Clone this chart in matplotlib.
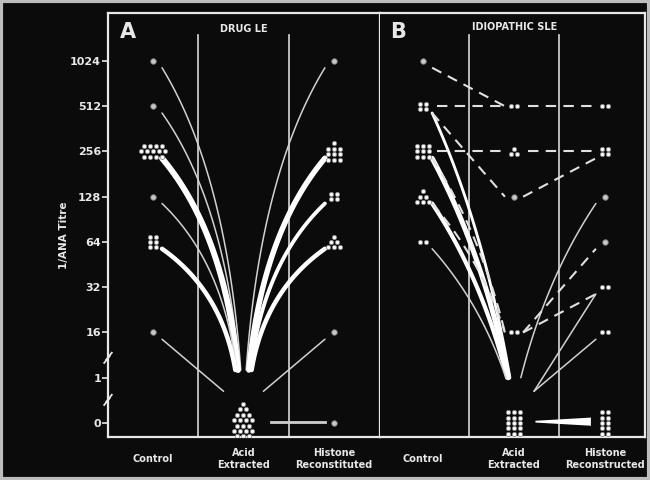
import numpy as np
import matplotlib.pyplot as plt

titre_labels = ['0', '1', '16', '32', '64', '128', '256', '512', '1024']
titre_values = [0, 1, 16, 32, 64, 128, 256, 512, 1024]
groups_a = ['Control', 'Acid\nExtracted', 'Histone\nReconstituted']
groups_b = ['Control', 'Acid\nExtracted', 'Histone\nReconstructed']

# clusters of patients: column, titre, patients in each row of the cluster (top row first)
a_col = [0, 0, 0, 0, 0, 0, 1, 2, 2, 2, 2, 2, 2]
a_titre = [1024, 512, 256, 128, 64, 16, 0, 1024, 256, 128, 64, 16, 0]
a_rows = [[1], [1], [4, 5, 4], [1], [2, 2, 2], [1], [1, 2, 3, 4, 3, 4, 3, 4],
          [1], [1, 3, 3, 3], [2, 2], [1, 2, 3], [1], [1]]

b_col = [0, 0, 0, 0, 0, 1, 1, 1, 1, 1, 2, 2, 2, 2, 2, 2, 2]
b_titre = [1024, 512, 256, 128, 64, 512, 256, 128, 16, 0, 512, 256, 128, 64, 32, 16, 0]
b_rows = [[1], [2, 2], [3, 3, 3], [1, 2, 3], [2], [2], [1, 2], [1], [2], [3, 3, 3, 3, 3],
          [2], [2, 2], [1], [1], [2], [2], [2, 2, 2, 2, 2]]

# patient tracks: from (column, titre) to (column, titre), number of patients
a_from_col = [0, 0, 0, 0, 0, 0, 1, 1, 1, 1, 1]
a_from_t = [1024, 512, 256, 128, 64, 16, 1, 1, 1, 1, 1]
a_to_col = [1, 1, 1, 1, 1, 1, 2, 2, 2, 2, 2]
a_to_t = [1, 1, 1, 1, 1, 1, 1024, 256, 128, 64, 16]
a_weight = [1, 1, 12, 1, 6, 1, 1, 10, 4, 6, 1]
a_dashed = [False] * 11

b_from_col = [0, 0, 0, 0, 1, 1, 1,
              0, 0, 1, 0, 1, 0, 1, 0, 0, 1, 1]
b_from_t = [512, 256, 128, 64, 1, 1, 1,
            1024, 512, 512, 256, 256, 512, 128, 256, 128, 16, 16]
b_to_col = [1, 1, 1, 1, 2, 2, 2,
            1, 1, 2, 1, 2, 1, 2, 1, 1, 2, 2]
b_to_t = [1, 1, 1, 1, 128, 32, 16,
          512, 512, 512, 256, 256, 128, 256, 16, 16, 64, 32]
b_weight = [2, 8, 5, 1, 1, 1, 1,
            1, 1, 1, 1, 1, 1, 1, 1, 1, 1, 1]
b_dashed = [False] * 7 + [True] * 11


def pos(t):
    return titre_values.index(t)


fig = plt.figure(figsize=(6.5, 4.8), dpi=100)
fig.patch.set_facecolor('#0b0b0b')
fig.patches.append(plt.Rectangle((0.002, 0.002), 0.996, 0.996, transform=fig.transFigure,
                                 fill=False, edgecolor='#bdbdbd', lw=3))

bg = '#0b0b0b'
fg = '#e8e8e8'
ax_a = fig.add_axes([108 / 650, 43 / 480, 272 / 650, 424 / 480])
ax_b = fig.add_axes([380 / 650, 43 / 480, 265 / 650, 424 / 480])
ax_a.set_xlim(-0.497, 2.509)
ax_b.set_xlim(-0.473, 2.44)
px_col = {id(ax_a): 90.5, id(ax_b): 91.0}
px_pos = 45.25

for ax in (ax_a, ax_b):
    ax.set_facecolor(bg)
    ax.set_ylim(-0.31, 9.06)
    for s in ax.spines.values():
        s.set_color(fg)
        s.set_linewidth(1.6)
    ax.set_xticks([])
    for xv in (0.5, 1.5):
        ax.plot([xv, xv], [-0.31, 8.57], color='#d8d8d8', lw=1.2, zorder=1)
ax_b.spines['left'].set_visible(False)

ax_a.set_yticks(range(len(titre_labels)))
ax_a.set_yticklabels(titre_labels, color=fg, fontsize=8, fontweight='bold')
ax_a.tick_params(axis='y', colors=fg, length=4, width=1.2, pad=1)
ax_b.set_yticks([])
ax_a.text(-0.162, 0.476, '1/ANA Titre', transform=ax_a.transAxes, rotation=90,
          ha='center', va='center', color=fg, fontsize=7.5, fontweight='bold')

# axis breaks on the left spine
for yb in (1.44, 0.51):
    yf = (yb + 0.31) / 9.37
    ax_a.plot([-0.014, 0.006], [yf - 0.012, yf + 0.004], transform=ax_a.transAxes,
              color=fg, lw=1.3, clip_on=False, zorder=5)
    ax_a.plot([-0.006, 0.014], [yf - 0.004, yf + 0.012], transform=ax_a.transAxes,
              color=fg, lw=1.3, clip_on=False, zorder=5)


def draw_clusters(ax, cols, titres, rows_list):
    dx = 6.0 / px_col[id(ax)]
    dy = 5.4 / px_pos
    for c, t, rows in zip(cols, titres, rows_list):
        if sum(rows) == 1:
            ax.scatter([c], [pos(t)], s=16, color='#c8c8c8', edgecolors='#777777',
                       linewidths=0.6, zorder=4)
            continue
        xs, ys = [], []
        nr = len(rows)
        for i, n in enumerate(rows):
            yy = pos(t) + ((nr - 1) / 2 - i) * dy
            for j in range(n):
                xs.append(c + (j - (n - 1) / 2) * dx)
                ys.append(yy)
        ax.scatter(xs, ys, s=9, color='white', edgecolors='#8a8a8a', linewidths=0.6, zorder=4)


def draw_tracks(ax, fc, ft, tc, tt, weights, dashed, conv_y, bend):
    for c0, t0, c1, t1, w, d in zip(fc, ft, tc, tt, weights, dashed):
        y0, y1 = pos(t0), pos(t1)
        curved = abs(y1 - y0) >= 3
        if t0 == 1 or t1 == 1:
            # lines meeting at the acid-extracted column, slightly fanned out
            other = y0 if t1 == 1 else y1
            spread = 0.03 + 0.015 * (8 - other)
            if curved:
                p0 = (c0 + spread, conv_y) if t0 == 1 else (c0 + 0.1, y0 - 0.15)
                p2 = (c1 - spread, conv_y) if t1 == 1 else (c1 - 0.1, y1 - 0.15)
            else:
                p0 = (c0 + 0.22, 0.7) if t0 == 1 else (c0 + 0.1, y0 - 0.15)
                p2 = (c1 - 0.22, 0.7) if t1 == 1 else (c1 - 0.1, y1 - 0.15)
        elif y0 == y1:
            p0 = (c0 + 0.15, y0)
            p2 = (c1 - 0.12, y1)
        else:
            p0 = (c0 + 0.1, y0 - 0.15 if y1 < y0 else y0)
            p2 = (c1 - 0.1, y1 - 0.15 if y1 > y0 else y1)
        p0, p2 = np.array(p0), np.array(p2)
        if curved:
            a = 0.5 + bend * 0.32
            b = 0.5 - bend * 0.15
            if c0 == 0:
                p1 = np.array([p0[0] + a * (p2[0] - p0[0]), p0[1] + b * (p2[1] - p0[1])])
            else:
                p1 = np.array([p0[0] + (1 - a) * (p2[0] - p0[0]), p0[1] + (1 - b) * (p2[1] - p0[1])])
        else:
            p1 = (p0 + p2) / 2
        tt_ = np.linspace(0, 1, 60)[:, None]
        pts = (1 - tt_) ** 2 * p0 + 2 * tt_ * (1 - tt_) * p1 + tt_ ** 2 * p2
        lw = 1.1 + 0.95 * np.sqrt(w - 1)
        col = 'white' if w > 1 else '#d2d2d2'
        if d:
            ax.plot(pts[:, 0], pts[:, 1], color='#e0e0e0', lw=1.5, dashes=(5, 3.5), zorder=3)
        else:
            ax.plot(pts[:, 0], pts[:, 1], color=col, lw=lw, solid_capstyle='round', zorder=3)


draw_tracks(ax_a, a_from_col, a_from_t, a_to_col, a_to_t, a_weight, a_dashed, 1.17, 1.0)
draw_tracks(ax_b, b_from_col, b_from_t, b_to_col, b_to_t, b_weight, b_dashed, 1.0, 0.5)
draw_clusters(ax_a, a_col, a_titre, a_rows)
draw_clusters(ax_b, b_col, b_titre, b_rows)

# undetectable titres that stay undetectable
ax_a.plot([1.3, 1.9], [0.02, 0.02], color='#cfcfcf', lw=2, zorder=3)
xw = np.linspace(1.23, 1.84, 30)
hw = np.linspace(0.02, 0.09, 30)
ax_b.fill_between(xw, 0.04 - hw, 0.04 + hw, color='white', lw=0, zorder=3)

for ax, groups in ((ax_a, groups_a), (ax_b, groups_b)):
    for i, g in enumerate(groups):
        ax.text(i, -0.052, g, transform=ax.get_xaxis_transform(), ha='center', va='center',
                color=fg, fontsize=7, fontweight='bold', linespacing=1.15, clip_on=False)

ax_a.text(0.074, 0.955, 'A', transform=ax_a.transAxes, ha='center', va='center',
          color=fg, fontsize=15, fontweight='bold')
ax_a.text(0.5, 0.962, 'DRUG LE', transform=ax_a.transAxes, ha='center', va='center',
          color=fg, fontsize=7, fontweight='bold')
ax_b.text(0.068, 0.955, 'B', transform=ax_b.transAxes, ha='center', va='center',
          color=fg, fontsize=15, fontweight='bold')
ax_b.text(0.509, 0.967, 'IDIOPATHIC SLE', transform=ax_b.transAxes, ha='center', va='center',
          color=fg, fontsize=7, fontweight='bold')

fig.savefig('out.png', dpi=100, facecolor=fig.get_facecolor())
